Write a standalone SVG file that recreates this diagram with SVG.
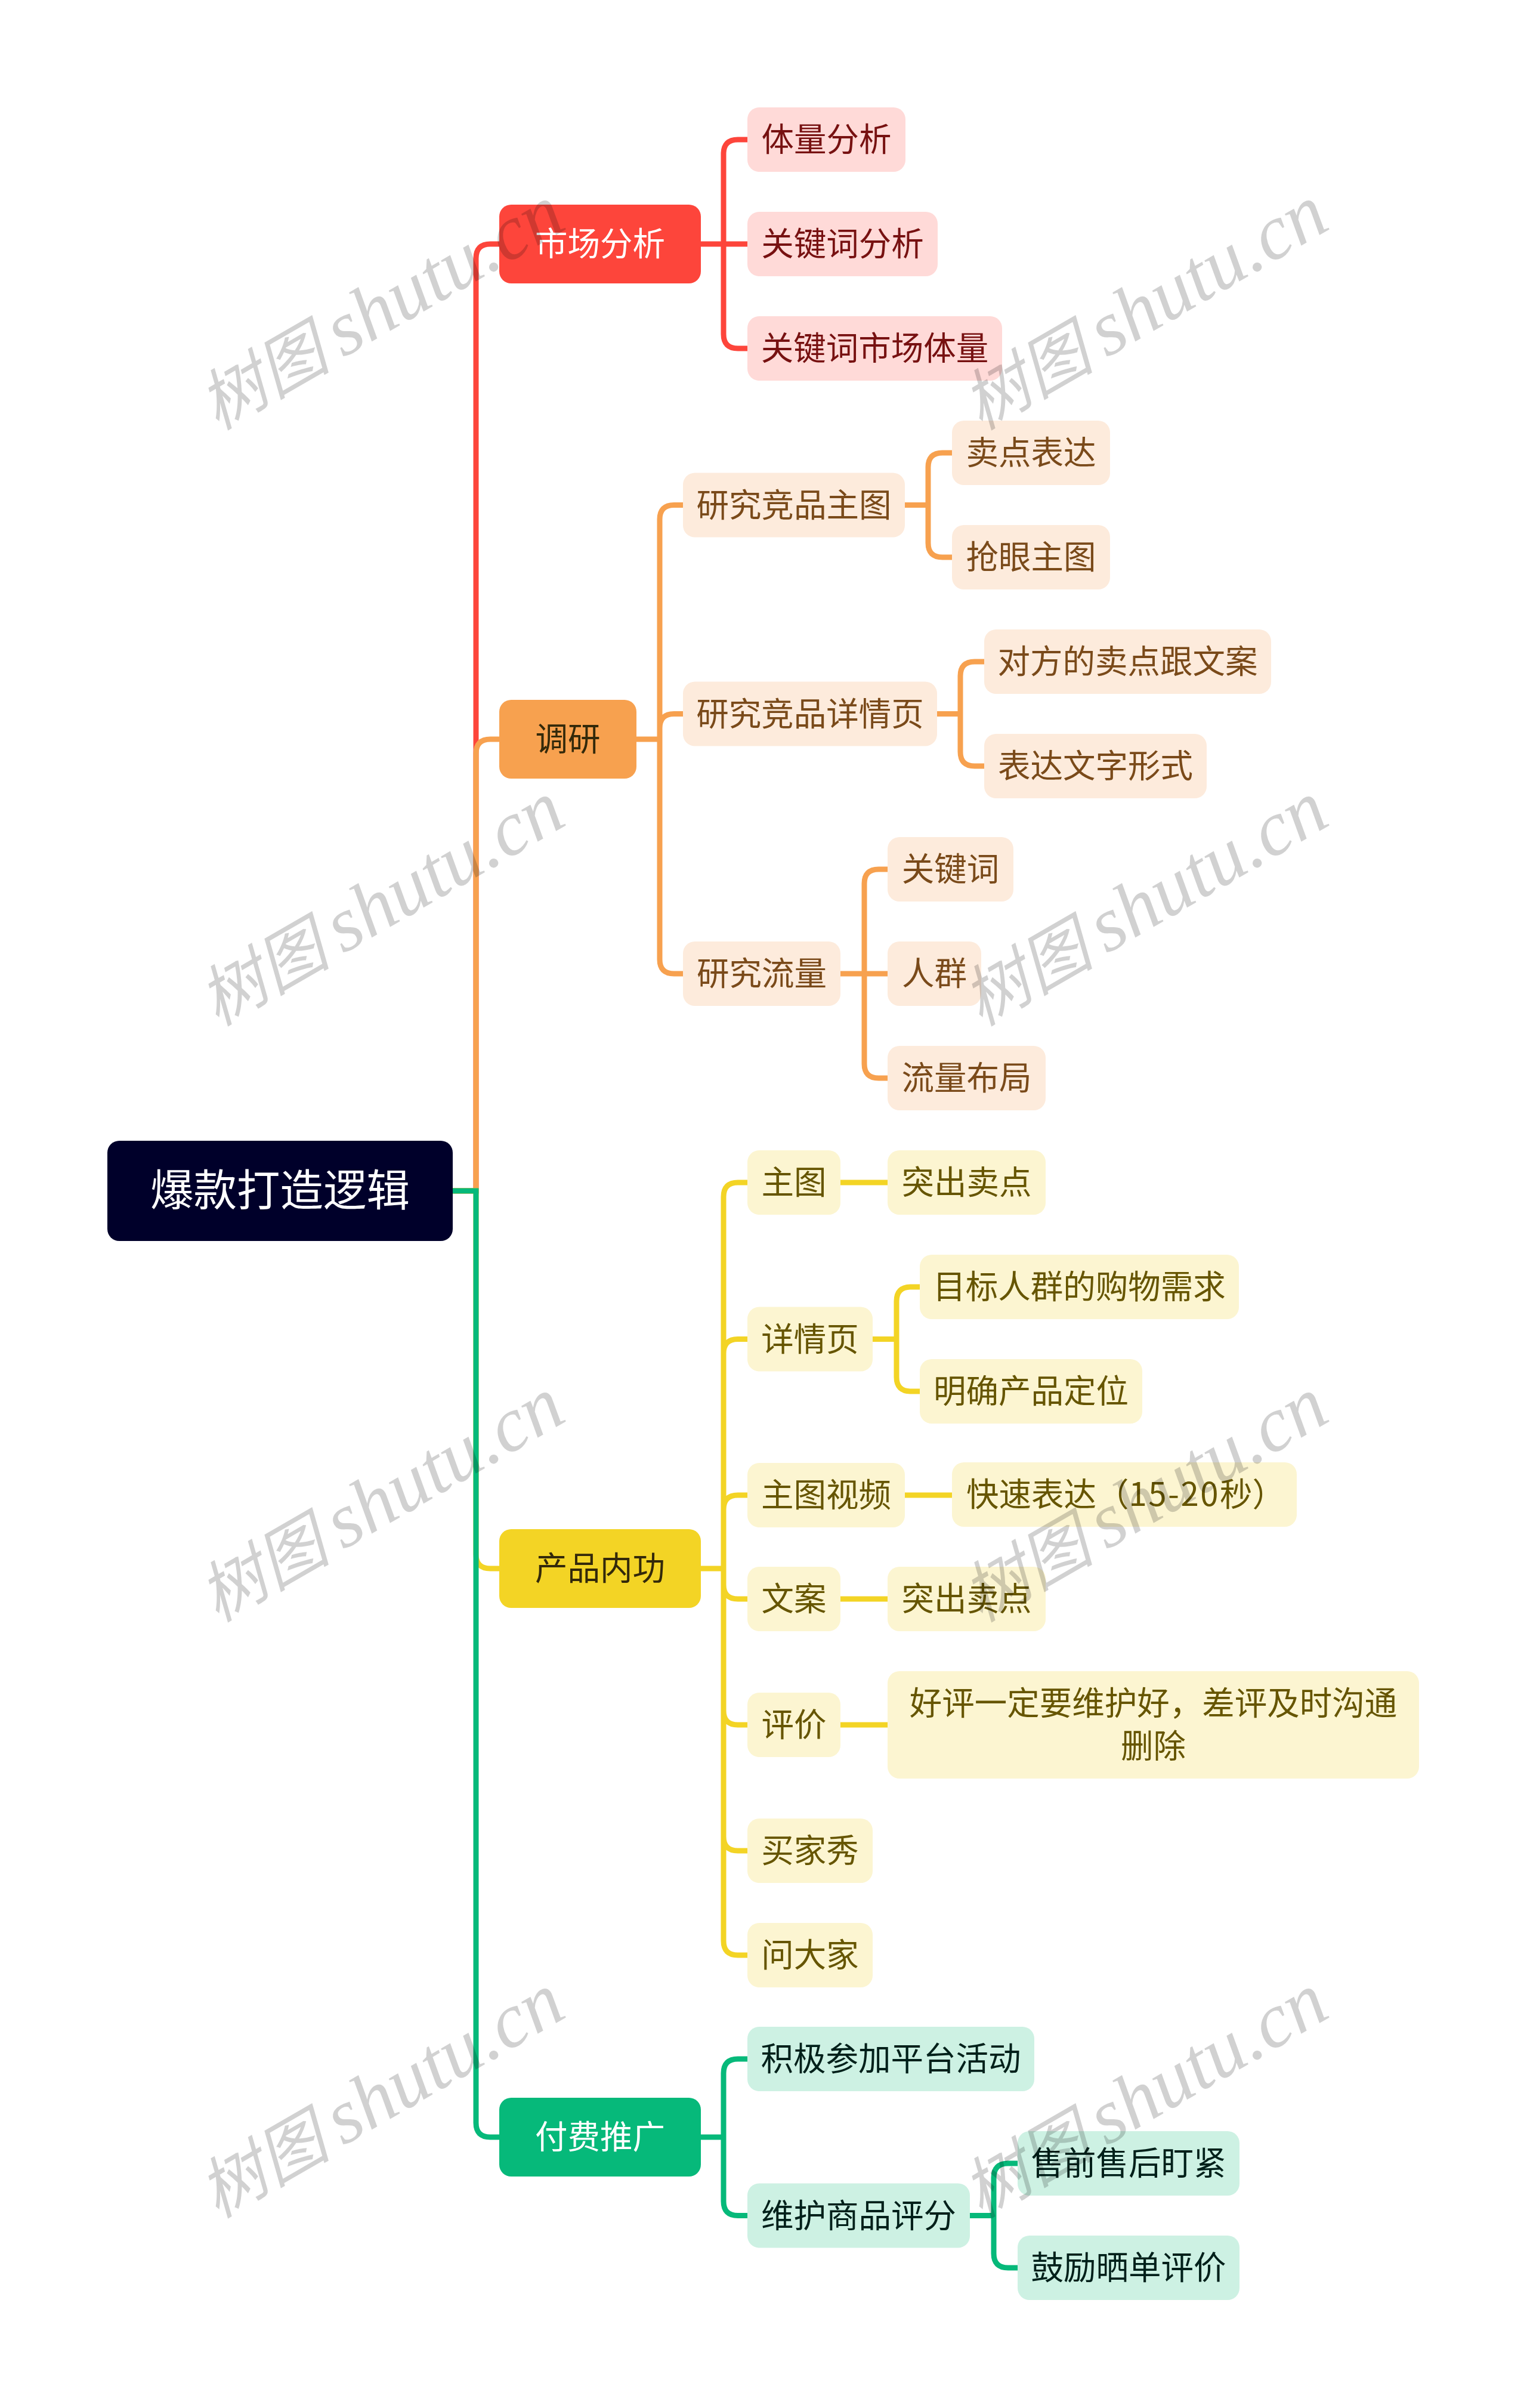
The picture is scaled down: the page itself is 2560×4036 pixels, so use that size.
<svg xmlns="http://www.w3.org/2000/svg" width="2560" height="4036" viewBox="0 0 2560 4036">
<style>
text{font-family:"Noto Sans CJK SC","Noto Sans",sans-serif;font-size:54.5px;text-anchor:middle}
.c{fill:none;stroke-width:9}
.cr{stroke:#FD453B}.co{stroke:#F7A14F}.cy{stroke:#F3D425}.cg{stroke:#06B97A}
.fr{fill:#FD453B}.fo{fill:#F7A14F}.fy{fill:#F3D425}.fg{fill:#06B97A}
.lr{fill:#FFDAD8}.lo{fill:#FDEBDC}.ly{fill:#FCF5D1}.lg{fill:#CDF1E3}
.tr{fill:#771111}.to{fill:#7A4A1A}.ty{fill:#665500}.tg{fill:#00201A}
.w{fill:#fff}.d{fill:#33290A}
.wm text{font-family:"Liberation Serif","Noto Sans CJK SC",serif;font-style:italic;font-size:111px;fill:#000;fill-opacity:.18;text-anchor:start}
.wm tspan{font-size:130px}
</style>
<rect width="2560" height="4036" fill="#fff"/>
<g id="connectors">
<path class="c cr" d="M759 1996H798V433Q798 409 822 409H837"/>
<path class="c co" d="M759 1996H798V1263Q798 1239 822 1239H837"/>
<path class="c cy" d="M759 1996H798V2605Q798 2629 822 2629H837"/>
<path class="c cg" d="M759 1996H798V3558Q798 3582 822 3582H837"/>
<path class="c cr" d="M1175 409H1213V258Q1213 234 1237 234H1253M1175 409H1253M1175 409H1213V560Q1213 584 1237 584H1253"/>
<path class="c co" d="M1067 1239H1106V870.5Q1106 846.5 1130 846.5H1145M1067 1239H1106V1220.5Q1106 1196.5 1130 1196.5H1145M1067 1239H1106V1608Q1106 1632 1130 1632H1145"/>
<path class="c co" d="M1517 846.500H1556V783Q1556 759 1580 759H1596M1517 846.500H1556V910Q1556 934 1580 934H1596"/>
<path class="c co" d="M1571 1196.5H1610V1133Q1610 1109 1634 1109H1650M1571 1196.5H1610V1260Q1610 1284 1634 1284H1650"/>
<path class="c co" d="M1409 1632H1449V1481Q1449 1457 1473 1457H1488M1409 1632H1488M1409 1632H1449V1783Q1449 1807 1473 1807H1488"/>
<path class="c cy" d="M1175 2629H1213V2006Q1213 1982 1237 1982H1253M1213 2629V2268.5Q1213 2244.5 1237 2244.5H1253M1213 2629V2530Q1213 2506 1237 2506H1253M1213 2629V2656Q1213 2680 1237 2680H1253M1213 2629V2867Q1213 2891 1237 2891H1253M1213 2629V3078Q1213 3102 1237 3102H1253M1213 2629V3253Q1213 3277 1237 3277H1253"/>
<path class="c cy" d="M1409 1982H1488M1517 2506H1596M1409 2680H1488M1409 2891H1488"/>
<path class="c cy" d="M1463 2244.5H1503V2181Q1503 2157 1527 2157H1542M1463 2244.5H1503V2308Q1503 2332 1527 2332H1542"/>
<path class="c cg" d="M1175 3582H1213V3475Q1213 3451 1237 3451H1253M1175 3582H1213V3689.5Q1213 3713.5 1237 3713.5H1253"/>
<path class="c cg" d="M1626 3713.500H1666V3650Q1666 3626 1690 3626H1706M1626 3713.500H1666V3777Q1666 3801 1690 3801H1706"/>
</g>
<g id="root"><rect x="180" y="1912" width="579" height="168" rx="20" fill="#00002A"/><text class="w" style="font-size:72.5px" x="469.500" y="2021">爆款打造逻辑</text></g>
<g id="n-market"><rect class="fr" x="837" y="343" width="338" height="132" rx="20"/><text class="w" x="1006" y="428">市场分析</text></g>
<g id="n-market-1"><rect class="lr" x="1253" y="180" width="265" height="108" rx="20"/><text class="tr" x="1385.500" y="253">体量分析</text></g>
<g id="n-market-2"><rect class="lr" x="1253" y="355" width="319" height="108" rx="20"/><text class="tr" x="1412.500" y="428">关键词分析</text></g>
<g id="n-market-3"><rect class="lr" x="1253" y="530" width="427" height="108" rx="20"/><text class="tr" x="1466.500" y="603">关键词市场体量</text></g>
<g id="n-research"><rect class="fo" x="837" y="1173" width="230" height="132" rx="20"/><text class="d" x="952" y="1258">调研</text></g>
<g id="n-r1"><rect class="lo" x="1145" y="792.500" width="372" height="108" rx="20"/><text class="to" x="1331" y="865.500">研究竞品主图</text></g>
<g id="n-r11"><rect class="lo" x="1596" y="705" width="265" height="108" rx="20"/><text class="to" x="1728.500" y="778">卖点表达</text></g>
<g id="n-r12"><rect class="lo" x="1596" y="880" width="265" height="108" rx="20"/><text class="to" x="1728.500" y="953">抢眼主图</text></g>
<g id="n-r2"><rect class="lo" x="1145" y="1142.500" width="426" height="108" rx="20"/><text class="to" x="1358" y="1215.500">研究竞品详情页</text></g>
<g id="n-r21"><rect class="lo" x="1650" y="1055" width="481" height="108" rx="20"/><text class="to" x="1890.500" y="1128">对方的卖点跟文案</text></g>
<g id="n-r22"><rect class="lo" x="1650" y="1230" width="373" height="108" rx="20"/><text class="to" x="1836.500" y="1303">表达文字形式</text></g>
<g id="n-r3"><rect class="lo" x="1145" y="1578" width="264" height="108" rx="20"/><text class="to" x="1277" y="1651">研究流量</text></g>
<g id="n-r31"><rect class="lo" x="1488" y="1403" width="211" height="108" rx="20"/><text class="to" x="1593.500" y="1476">关键词</text></g>
<g id="n-r32"><rect class="lo" x="1488" y="1578" width="157" height="108" rx="20"/><text class="to" x="1566.500" y="1651">人群</text></g>
<g id="n-r33"><rect class="lo" x="1488" y="1753" width="265" height="108" rx="20"/><text class="to" x="1620.500" y="1826">流量布局</text></g>
<g id="n-product"><rect class="fy" x="837" y="2563" width="338" height="132" rx="20"/><text class="d" x="1006" y="2648">产品内功</text></g>
<g id="n-p1"><rect class="ly" x="1253" y="1928" width="156" height="108" rx="20"/><text class="ty" x="1331" y="2001">主图</text></g>
<g id="n-p11"><rect class="ly" x="1488" y="1928" width="265" height="108" rx="20"/><text class="ty" x="1620.500" y="2001">突出卖点</text></g>
<g id="n-p2"><rect class="ly" x="1253" y="2190.500" width="210" height="108" rx="20"/><text class="ty" x="1358" y="2263.500">详情页</text></g>
<g id="n-p21"><rect class="ly" x="1542" y="2103" width="535" height="108" rx="20"/><text class="ty" x="1809.500" y="2176">目标人群的购物需求</text></g>
<g id="n-p22"><rect class="ly" x="1542" y="2278" width="373" height="108" rx="20"/><text class="ty" x="1728.500" y="2351">明确产品定位</text></g>
<g id="n-p3"><rect class="ly" x="1253" y="2452" width="264" height="108" rx="20"/><text class="ty" x="1385" y="2525">主图视频</text></g>
<g id="n-p31"><rect class="ly" x="1596" y="2451" width="578" height="108" rx="20"/><text class="ty" style="text-anchor:start" x="1620" y="2524">快速表达（<tspan letter-spacing="2.500">15-20</tspan>秒）</text></g>
<g id="n-p4"><rect class="ly" x="1253" y="2626" width="156" height="108" rx="20"/><text class="ty" x="1331" y="2699">文案</text></g>
<g id="n-p41"><rect class="ly" x="1488" y="2626" width="265" height="108" rx="20"/><text class="ty" x="1620.500" y="2699">突出卖点</text></g>
<g id="n-p5"><rect class="ly" x="1253" y="2837" width="156" height="108" rx="20"/><text class="ty" x="1331" y="2910">评价</text></g>
<g id="n-p51"><rect class="ly" x="1488" y="2801" width="891" height="180" rx="20"/><text class="ty" x="1933.500" y="2874">好评一定要维护好，差评及时沟通</text><text class="ty" x="1933.500" y="2946">删除</text></g>
<g id="n-p6"><rect class="ly" x="1253" y="3048" width="210" height="108" rx="20"/><text class="ty" x="1358" y="3121">买家秀</text></g>
<g id="n-p7"><rect class="ly" x="1253" y="3223" width="210" height="108" rx="20"/><text class="ty" x="1358" y="3296">问大家</text></g>
<g id="n-paid"><rect class="fg" x="837" y="3516" width="338" height="132" rx="20"/><text class="w" x="1006" y="3601">付费推广</text></g>
<g id="n-g1"><rect class="lg" x="1253" y="3397" width="481" height="108" rx="20"/><text class="tg" x="1493.500" y="3470">积极参加平台活动</text></g>
<g id="n-g2"><rect class="lg" x="1253" y="3659.500" width="373" height="108" rx="20"/><text class="tg" x="1439.500" y="3732.500">维护商品评分</text></g>
<g id="n-g21"><rect class="lg" x="1706" y="3572" width="372" height="108" rx="20"/><text class="tg" x="1892" y="3645">售前售后盯紧</text></g>
<g id="n-g22"><rect class="lg" x="1706" y="3747" width="372" height="108" rx="20"/><text class="tg" x="1892" y="3820">鼓励晒单评价</text></g>
<g class="wm">
<text transform="translate(364 722) rotate(-30)">树图<tspan dx="22">shutu.cn</tspan></text>
<text transform="translate(1644 722) rotate(-30)">树图<tspan dx="22">shutu.cn</tspan></text>
<text transform="translate(364 1721) rotate(-30)">树图<tspan dx="22">shutu.cn</tspan></text>
<text transform="translate(1644 1721) rotate(-30)">树图<tspan dx="22">shutu.cn</tspan></text>
<text transform="translate(364 2720) rotate(-30)">树图<tspan dx="22">shutu.cn</tspan></text>
<text transform="translate(1644 2720) rotate(-30)">树图<tspan dx="22">shutu.cn</tspan></text>
<text transform="translate(364 3719) rotate(-30)">树图<tspan dx="22">shutu.cn</tspan></text>
<text transform="translate(1644 3719) rotate(-30)">树图<tspan dx="22">shutu.cn</tspan></text>
</g>
</svg>
